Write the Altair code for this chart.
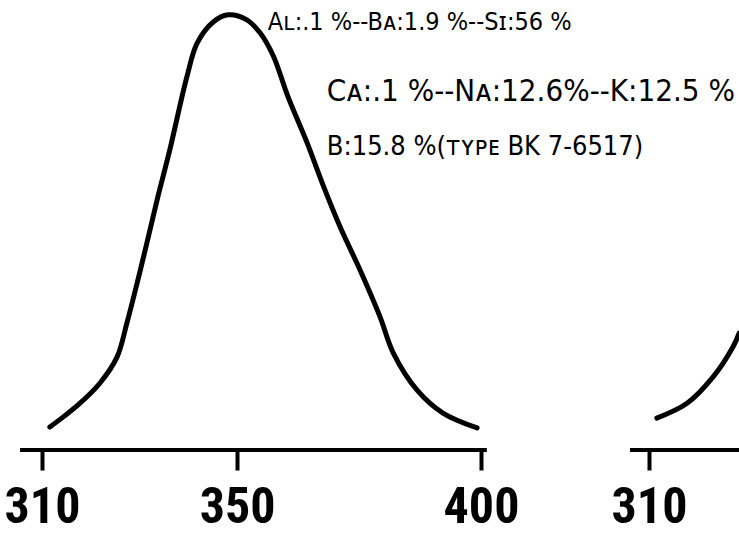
import altair as alt
import pandas as pd

# ---- data ----
# left panel: transmission curve (wavelength nm, relative transmission %)
wl = [311.6, 314.3, 317.8, 321.9, 325.4, 327.4, 329.5, 331.5, 333.6, 336.2,
      339.7, 341.8, 345.1, 348.1, 352.0, 354.7, 357.4, 360.4, 364.3, 367.6,
      371.1, 375.2, 379.3, 382.0, 386.9, 392.2, 399.2]
tr = [5.1, 7.3, 10.4, 14.9, 20.7, 28.2, 37.1, 46.0, 55.6, 66.7,
      82.9, 90.4, 95.1, 96.7, 95.6, 92.7, 87.6, 78.6, 68.4, 58.9,
      49.6, 40.0, 29.6, 21.6, 13.3, 8.2, 4.9]
# right (cut-off) panel: beginning of the next curve
wl2 = [311.6, 317.8, 323.1, 327.2, 328.5]
tr2 = [7.1, 10.4, 16.2, 22.9, 26.0]

ticks1 = [310, 350, 400]
ticks2 = [310]
axis1_span = [305.5, 401.2]
axis2_span = [306.1, 330.0]

notes = ["Aʟ:.1 %--Bᴀ:1.9 %--Sɪ:56 %",
         "Cᴀ:.1 %--Nᴀ:12.6%--K:12.5 %",
         "B:15.8 %(ᴛʏᴘᴇ BK 7-6517)"]
note_wl = [356.3, 368.4, 368.4]
note_tr = [95.1, 79.6, 67.3]

# ---- styling ----
NUM_FONT = "Roboto Condensed, Liberation Sans Narrow, Roboto"
TXT_FONT = "DejaVu Sans Condensed, Roboto"
note_sizes = [25, 31, 27]

xs1 = alt.Scale(domain=[301.39, 452.89], nice=False, zero=False)
xs2 = alt.Scale(domain=[176.95, 328.45], nice=False, zero=False)
ys = alt.Scale(domain=[0, 100], nice=False, zero=False)


def make_axis(vals):
    return alt.Axis(values=vals, orient="bottom", domain=False, grid=False,
                    ticks=True, tickSize=20, tickWidth=4, tickColor="black",
                    labelFontSize=50, labelFont=NUM_FONT, labelFontWeight="bold",
                    labelColor="black", labelPadding=12, labelFlush=False,
                    labelOverlap=False, labelBound=False, title=None, format="d")


ax1 = make_axis(ticks1)
ax2 = make_axis(ticks2)

curve1_df = pd.DataFrame({"wl": wl, "tr": tr})
curve2_df = pd.DataFrame({"wl": wl2, "tr": tr2})
axis1_df = pd.DataFrame({"wl": [axis1_span[0]], "end": [axis1_span[1]], "tr": [0]})
axis2_df = pd.DataFrame({"wl": [axis2_span[0]], "end": [axis2_span[1]], "tr": [0]})
notes_df = pd.DataFrame({"text": notes, "wl": note_wl, "tr": note_tr})

axis1 = alt.Chart(axis1_df).mark_rule(color="black", strokeWidth=4).encode(
    x=alt.X("wl:Q", scale=xs1, axis=ax1),
    x2="end:Q",
    y=alt.Y("tr:Q", scale=ys, axis=None),
)
curve1 = alt.Chart(curve1_df).mark_line(
    color="black", strokeWidth=5, interpolate="catmull-rom",
    strokeCap="round", strokeJoin="round").encode(
    x=alt.X("wl:Q", scale=xs1, axis=ax1),
    y=alt.Y("tr:Q", scale=ys, axis=None),
)
note_layers = []
for i, fs in enumerate(note_sizes):
    note_layers.append(
        alt.Chart(notes_df.iloc[[i]]).mark_text(
            align="left", baseline="middle", font=TXT_FONT, fontSize=fs,
            color="black").encode(
            x=alt.X("wl:Q", scale=xs1, axis=ax1),
            y=alt.Y("tr:Q", scale=ys, axis=None),
            text="text:N",
        )
    )
panel1 = alt.layer(axis1, curve1, *note_layers)

axis2 = alt.Chart(axis2_df).mark_rule(color="black", strokeWidth=4).encode(
    x=alt.X("wl:Q", scale=xs2, axis=ax2),
    x2="end:Q",
    y=alt.Y("tr:Q", scale=ys, axis=None),
)
curve2 = alt.Chart(curve2_df).mark_line(
    color="black", strokeWidth=5, interpolate="catmull-rom",
    strokeCap="round", strokeJoin="round").encode(
    x=alt.X("wl:Q", scale=xs2, axis=ax2),
    y=alt.Y("tr:Q", scale=ys, axis=None),
)
panel2 = alt.layer(axis2, curve2)

chart = alt.layer(panel1, panel2).resolve_scale(x="independent").properties(
    width=739, height=450,
    padding={"left": 0, "right": 0, "top": 0, "bottom": 88},
    autosize=alt.AutoSizeParams(type="none"),
    background="white",
).configure_view(stroke=None)

chart.save("out.html", embed_options={"renderer": "svg", "actions": False})
